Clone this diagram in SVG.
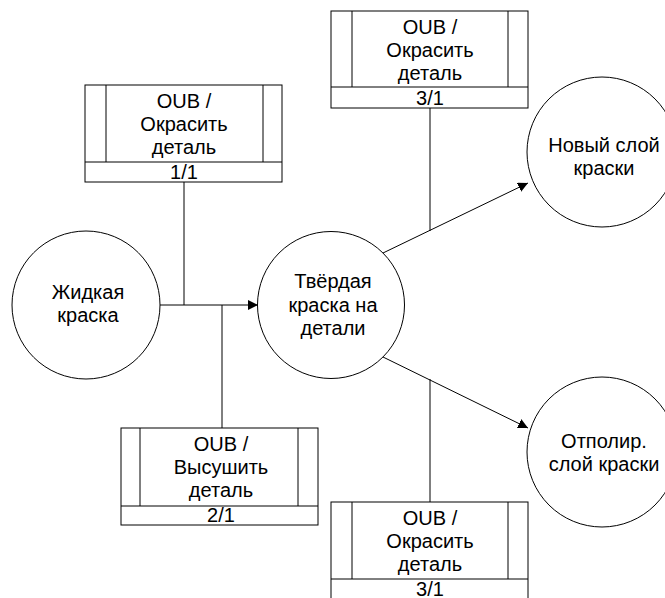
<svg xmlns="http://www.w3.org/2000/svg" width="665" height="598" viewBox="0 0 665 598">
  <style>
    .shape { fill: #fff; stroke: #000; stroke-width: 1; }
    .line { fill: none; stroke: #000; stroke-width: 1; }
    text { font-family: "Liberation Sans", Arial, sans-serif; font-size: 20px; fill: #000; text-anchor: middle; }
  </style>
  <defs>
    <marker id="arrow" viewBox="0 0 10 10" refX="10" refY="5" markerWidth="10" markerHeight="10" markerUnits="userSpaceOnUse" orient="auto">
      <path d="M0,0 L10,5 L0,10 Z" fill="#000"/>
    </marker>
  </defs>
  <rect width="665" height="598" fill="#fff"/>

  <!-- connectors -->
  <g id="connectors">
    <line class="line" x1="160" y1="305" x2="258" y2="305" marker-end="url(#arrow)"/>
    <line class="line" x1="184" y1="182" x2="184" y2="305"/>
    <line class="line" x1="222" y1="305" x2="222" y2="428"/>
    <line class="line" x1="383" y1="253" x2="528" y2="183" marker-end="url(#arrow)"/>
    <line class="line" x1="430" y1="108" x2="430" y2="231"/>
    <line class="line" x1="383" y1="357" x2="528" y2="428" marker-end="url(#arrow)"/>
    <line class="line" x1="430" y1="379" x2="430" y2="502"/>
  </g>

  <!-- mechanism boxes -->
  <g id="box-paint-1">
    <rect class="shape" x="85" y="85" width="197" height="97"/>
    <line class="line" x1="106" y1="85" x2="106" y2="162"/>
    <line class="line" x1="263" y1="85" x2="263" y2="162"/>
    <line class="line" x1="85" y1="162" x2="282" y2="162"/>
    <text x="184" y="108">OUB /</text>
    <text x="184" y="131">Окрасить</text>
    <text x="184" y="154">деталь</text>
    <text x="184" y="179">1/1</text>
  </g>

  <g id="box-paint-top">
    <rect class="shape" x="331" y="11" width="197" height="97"/>
    <line class="line" x1="352" y1="11" x2="352" y2="87"/>
    <line class="line" x1="508" y1="11" x2="508" y2="87"/>
    <line class="line" x1="331" y1="87" x2="528" y2="87"/>
    <text x="430" y="34">OUB /</text>
    <text x="430" y="57">Окрасить</text>
    <text x="430" y="80">деталь</text>
    <text x="430" y="105">3/1</text>
  </g>

  <g id="box-dry">
    <rect class="shape" x="121" y="428" width="197" height="97"/>
    <line class="line" x1="140" y1="428" x2="140" y2="506"/>
    <line class="line" x1="298" y1="428" x2="298" y2="506"/>
    <line class="line" x1="121" y1="506" x2="318" y2="506"/>
    <text x="221" y="451">OUB /</text>
    <text x="221" y="474">Высушить</text>
    <text x="221" y="497">деталь</text>
    <text x="221" y="522">2/1</text>
  </g>

  <g id="box-paint-bottom">
    <rect class="shape" x="331" y="502" width="197" height="97"/>
    <line class="line" x1="352" y1="502" x2="352" y2="579"/>
    <line class="line" x1="508" y1="502" x2="508" y2="579"/>
    <line class="line" x1="331" y1="579" x2="528" y2="579"/>
    <text x="430" y="525">OUB /</text>
    <text x="430" y="548">Окрасить</text>
    <text x="430" y="571">деталь</text>
    <text x="430" y="596">3/1</text>
  </g>

  <!-- state circles -->
  <g id="state-liquid">
    <circle class="shape" cx="86" cy="305" r="74"/>
    <text x="88" y="299">Жидкая</text>
    <text x="88" y="322">краска</text>
  </g>

  <g id="state-solid">
    <circle class="shape" cx="331" cy="305" r="73.5"/>
    <text x="333" y="288">Твёрдая</text>
    <text x="333" y="312">краска на</text>
    <text x="333" y="335">детали</text>
  </g>

  <g id="state-new-layer">
    <circle class="shape" cx="602" cy="152" r="75"/>
    <text x="604" y="152">Новый слой</text>
    <text x="604" y="175">краски</text>
  </g>

  <g id="state-polished">
    <circle class="shape" cx="602" cy="452" r="75"/>
    <text x="604" y="448">Отполир.</text>
    <text x="604" y="471">слой краски</text>
  </g>
</svg>
